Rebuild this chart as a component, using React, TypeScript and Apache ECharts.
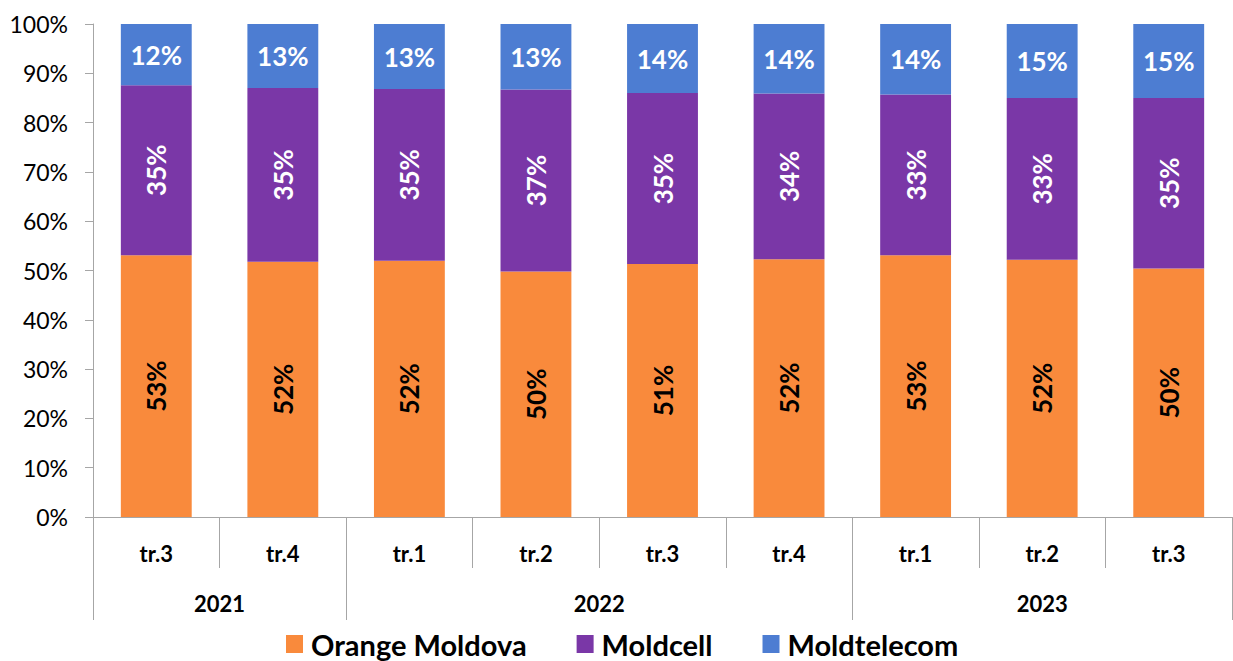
import React, { useEffect, useRef } from "react";
import * as echarts from "echarts";

const quarters = ["tr.3", "tr.4", "tr.1", "tr.2", "tr.3", "tr.4", "tr.1", "tr.2", "tr.3"];
const yearSlots = ["", "", "2021", "", "", "", "", "", "2022", "", "", "", "", "", "", "2023", "", "", ""];
const yearSeparators = [0, 4, 12, 18];
const orange = [53.1, 51.8, 52.0, 49.8, 51.3, 52.3, 53.1, 52.2, 50.4];
const moldcell = [34.5, 35.2, 34.8, 36.9, 34.7, 33.6, 32.6, 32.8, 34.6];
const moldtelecom = [12.4, 13.0, 13.2, 13.3, 14.0, 14.1, 14.3, 15.0, 15.0];
const yTicks = { min: 0, max: 100, interval: 10 };

const FONT = "Lato";
const AXIS = "#A6A6A6";

export default function App() {
  const ref = useRef<HTMLDivElement>(null);
  useEffect(() => {
    if (!ref.current) return;
    const chart = echarts.init(ref.current, null, { renderer: "svg" });
    const fmt = (p: any) => Math.round(p.value) + "%";
    chart.setOption({
      animation: false,
      textStyle: { fontFamily: FONT },
      grid: { left: 93, right: 1, top: 24, bottom: 144, containLabel: false },
      legend: {
        left: 281,
        top: 624,
        itemWidth: 17,
        itemHeight: 18,
        itemGap: 50,
        icon: "rect",
        textStyle: {
          fontFamily: FONT,
          fontWeight: "bold",
          fontSize: 29,
          lineHeight: 30,
          color: "#000",
          padding: [0, 0, 0, 3],
        },
        data: ["Orange Moldova", "Moldcell", "Moldtelecom"],
      },
      xAxis: [
        {
          type: "category",
          position: "bottom",
          data: quarters,
          axisLine: { show: true, lineStyle: { color: AXIS, width: 1 } },
          axisTick: { show: true, interval: 0, length: 51, lineStyle: { color: AXIS } },
          axisLabel: {
            interval: 0,
            margin: 25,
            fontFamily: FONT,
            fontWeight: "bold",
            fontSize: 22,
            color: "#000",
          },
          splitLine: { show: false },
        },
        {
          type: "category",
          position: "bottom",
          boundaryGap: false,
          data: yearSlots,
          axisLine: { show: false },
          axisTick: {
            show: true,
            length: 103,
            interval: (i: number) => yearSeparators.includes(i),
            lineStyle: { color: AXIS },
          },
          axisLabel: {
            interval: (i: number, v: string) => v !== "",
            margin: 75,
            fontFamily: FONT,
            fontWeight: "bold",
            fontSize: 22,
            color: "#000",
          },
          splitLine: { show: false },
        },
      ],
      yAxis: {
        type: "value",
        min: yTicks.min,
        max: yTicks.max,
        interval: yTicks.interval,
        axisLine: { show: true, lineStyle: { color: AXIS } },
        axisTick: { show: true, length: 8, lineStyle: { color: AXIS } },
        axisLabel: { formatter: "{value}%", fontFamily: FONT, fontSize: 23, color: "#000", margin: 25 },
        splitLine: { show: false },
      },
      series: [
        {
          name: "Orange Moldova",
          type: "bar",
          stack: "s",
          barWidth: "56%",
          data: orange,
          itemStyle: { color: "#F98A3C" },
          label: {
            show: true,
            position: "inside",
            rotate: 90,
            formatter: fmt,
            fontFamily: FONT,
            fontWeight: "bold",
            fontSize: 26,
            color: "#000",
          },
        },
        {
          name: "Moldcell",
          type: "bar",
          stack: "s",
          data: moldcell,
          itemStyle: { color: "#7A37A7" },
          label: {
            show: true,
            position: "inside",
            rotate: 90,
            formatter: fmt,
            fontFamily: FONT,
            fontWeight: "bold",
            fontSize: 26,
            color: "#fff",
          },
        },
        {
          name: "Moldtelecom",
          type: "bar",
          stack: "s",
          data: moldtelecom,
          itemStyle: { color: "#4D7DD2" },
          label: {
            show: true,
            position: "inside",
            formatter: fmt,
            fontFamily: FONT,
            fontWeight: "bold",
            fontSize: 26,
            color: "#fff",
          },
        },
      ],
    });
    return () => chart.dispose();
  }, []);
  return (
    <div
      ref={ref}
      style={{ position: "fixed", left: 0, top: 0, width: 1233, height: 661, background: "#fff" }}
    />
  );
}
